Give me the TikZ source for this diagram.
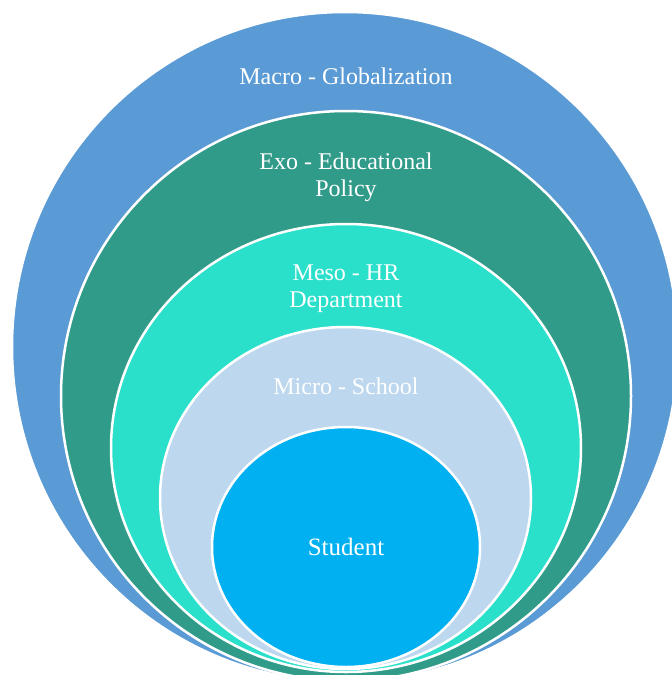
\documentclass[tikz,border=0pt]{standalone}
\usepackage{fontspec}
\setmainfont{Liberation Serif}
\begin{document}
\begin{tikzpicture}[x=1pt,y=-1pt,
  ring/.style={draw=white,line width=2.5pt},
  lbl/.style={text=white,font=\fontsize{24}{27}\selectfont,align=center,inner sep=0pt,anchor=base}]
\definecolor{macroC}{HTML}{5B9BD5}
\definecolor{exoC}{HTML}{319B8A}
\definecolor{mesoC}{HTML}{2AE0CB}
\definecolor{microC}{HTML}{BDD7EE}
\definecolor{studC}{HTML}{00B0F0}
\clip (0,0) rectangle (672,675);
% nested levels, outermost first
\path[ring,fill=macroC] (345,347) ellipse [x radius=333,y radius=335];
\path[ring,fill=exoC]   (346,396) ellipse [x radius=285,y radius=285];
\path[ring,fill=mesoC]  (346,448) ellipse [x radius=235,y radius=224];
\path[ring,fill=microC] (345.5,498) ellipse [x radius=185.5,y radius=171];
\path[ring,fill=studC]  (346,547) ellipse [x radius=134,y radius=120];
% level labels (multi-line labels are placed by their last baseline)
\node[lbl] (macro) at (346,84)  {Macro - Globalization};
\node[lbl] (exo)   at (346,196) {Exo - Educational\\Policy};
\node[lbl] (meso)  at (346,307) {Meso - HR\\Department};
\node[lbl] (micro) at (346,394) {Micro - School};
\node[lbl,font=\fontsize{25}{28}\selectfont] (stud) at (346,555) {Student};
\end{tikzpicture}
\end{document}
